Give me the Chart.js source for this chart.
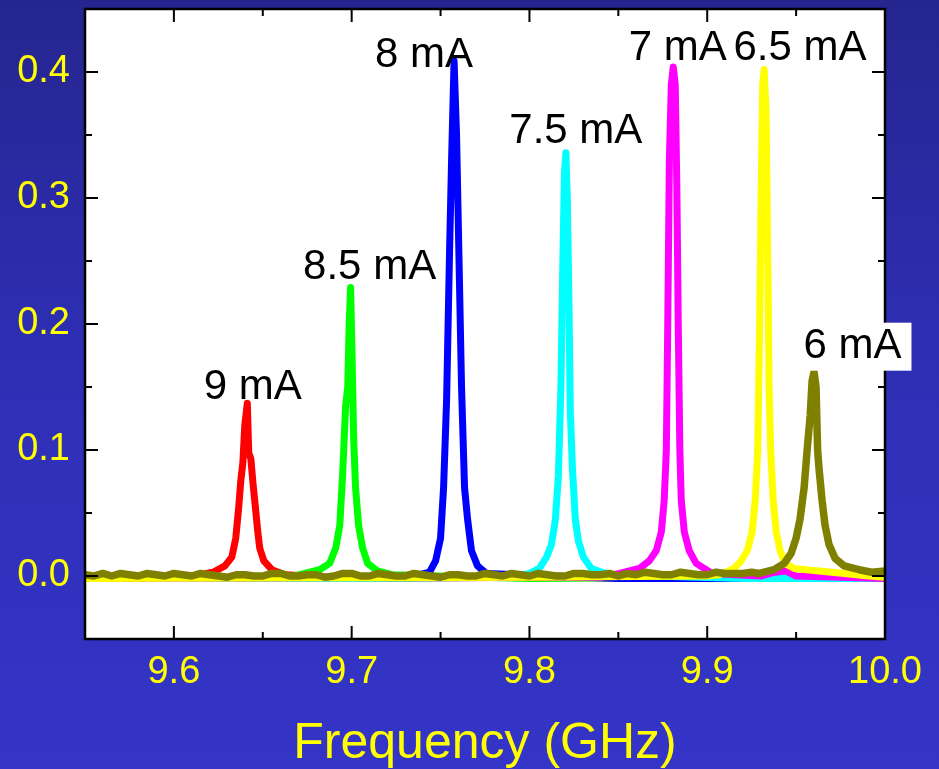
<!DOCTYPE html>
<html>
<head>
<meta charset="utf-8">
<script src="https://cdn.jsdelivr.net/npm/chart.js@4.4.1/dist/chart.umd.min.js"></script>
<style>
  html, body { margin: 0; padding: 0; }
  body {
    width: 939px; height: 769px; overflow: hidden;
    background: linear-gradient(to bottom, #25258f 0%, #2e2eb4 45%, #3434c8 100%);
  }
  canvas { display: block; }
</style>
</head>
<body>
<canvas id="chart" width="939" height="769"></canvas>
<script>
// tick labels
const xTicks = [9.6, 9.7, 9.8, 9.9, 10.0];
const yTicks = [0.0, 0.1, 0.2, 0.3, 0.4];
const xMinor = [9.55, 9.65, 9.75, 9.85, 9.95];
const yMinor = [0.05, 0.15, 0.25, 0.35];

// bias currents and line colours
const currents = ['9 mA', '8.5 mA', '8 mA', '7.5 mA', '7 mA', '6.5 mA', '6 mA'];
const colors = ['#ff0000', '#00ff00', '#0000ff', '#00ffff', '#ff00ff', '#ffff00', '#808000'];

// spectra: [frequency GHz, amplitude]
const s9 = [[9.55, -0.002], [9.58, -0.001], [9.60, -0.002], [9.615, 0.001], [9.622, 0.003], [9.6287, 0.008],
  [9.6326, 0.015], [9.6348, 0.03], [9.6365, 0.055], [9.6376, 0.075], [9.6388, 0.09], [9.6399, 0.12],
  [9.6413, 0.137], [9.6421, 0.098], [9.6433, 0.093], [9.6444, 0.075], [9.6458, 0.055], [9.6472, 0.035],
  [9.6483, 0.022], [9.6506, 0.012], [9.6551, 0.005], [9.6624, 0.001], [9.70, -0.002], [9.80, -0.001],
  [9.90, -0.002], [10.0, -0.002]];
const s85 = [[9.55, -0.002], [9.62, -0.001], [9.665, -0.001], [9.6736, 0.002], [9.682, 0.005], [9.6876, 0.01],
  [9.691, 0.022], [9.6933, 0.04], [9.6949, 0.08], [9.6966, 0.135], [9.6978, 0.15], [9.6986, 0.2],
  [9.6994, 0.229], [9.7003, 0.17], [9.7011, 0.11], [9.7022, 0.07], [9.7039, 0.04], [9.7062, 0.022],
  [9.709, 0.01], [9.7146, 0.004], [9.7225, 0.001], [9.80, -0.002], [9.90, -0.001], [10.0, -0.002]];
const s8 = [[9.55, -0.002], [9.65, -0.002], [9.73, -0.001], [9.7382, 0.001], [9.7438, 0.003], [9.7472, 0.012],
  [9.750, 0.03], [9.7517, 0.07], [9.7534, 0.14], [9.7551, 0.26], [9.7562, 0.33], [9.7576, 0.409],
  [9.759, 0.35], [9.7604, 0.25], [9.7618, 0.15], [9.7635, 0.07], [9.7652, 0.045], [9.7674, 0.02],
  [9.7708, 0.008], [9.7758, 0.002], [9.85, -0.002], [10.0, -0.002]];
const s75 = [[9.55, -0.002], [9.70, -0.002], [9.79, -0.001], [9.80, 0.002], [9.8056, 0.006], [9.8096, 0.015],
  [9.8124, 0.025], [9.8146, 0.045], [9.8163, 0.08], [9.8177, 0.15], [9.8188, 0.25], [9.8197, 0.32],
  [9.8205, 0.336], [9.8213, 0.3], [9.8222, 0.22], [9.823, 0.13], [9.8242, 0.085], [9.8258, 0.045],
  [9.8275, 0.028], [9.8303, 0.015], [9.8348, 0.006], [9.8449, 0.001], [9.92, -0.002], [10.0, -0.002]];
const s7 = [[9.55, -0.002], [9.75, -0.001], [9.84, -0.001], [9.8506, 0.002], [9.8618, 0.006], [9.8674, 0.012],
  [9.8713, 0.02], [9.8742, 0.035], [9.8758, 0.06], [9.877, 0.1], [9.8778, 0.2], [9.8787, 0.33],
  [9.8798, 0.39], [9.8809, 0.404], [9.882, 0.39], [9.8829, 0.31], [9.8837, 0.2], [9.8846, 0.1],
  [9.8854, 0.06], [9.8871, 0.035], [9.8899, 0.02], [9.8938, 0.01], [9.9028, 0.002], [9.93, 0.0],
  [9.938, 0.003], [9.944, 0.004], [9.95, 0.0], [10.0, -0.002]];
const s65 = [[9.55, -0.002], [9.80, -0.001], [9.90, 0.0], [9.9067, 0.001], [9.9152, 0.006], [9.9191, 0.012],
  [9.9225, 0.02], [9.9253, 0.035], [9.927, 0.06], [9.9284, 0.1], [9.9295, 0.2], [9.9303, 0.3],
  [9.9312, 0.39], [9.932, 0.402], [9.9331, 0.37], [9.934, 0.26], [9.9348, 0.15], [9.9357, 0.1],
  [9.9371, 0.06], [9.9388, 0.035], [9.941, 0.02], [9.9438, 0.01], [9.9489, 0.006], [9.9629, 0.004],
  [9.977, 0.002], [9.991, 0.0], [10.0, -0.001]];
const s6 = [[9.55, 0.001], [9.555, 0.0], [9.56, 0.002], [9.565, 0.0], [9.57, 0.002], [9.575, 0.001], [9.58, 0.0],
  [9.585, 0.002], [9.59, 0.001], [9.595, 0.0], [9.60, 0.002], [9.605, 0.001], [9.61, 0.0], [9.615, 0.002],
  [9.62, 0.001], [9.625, 0.0], [9.63, -0.001], [9.635, 0.001], [9.64, 0.001], [9.645, 0.0], [9.65, 0.0],
  [9.655, 0.002], [9.66, 0.002], [9.665, 0.0], [9.67, 0.0], [9.675, 0.001], [9.68, 0.001], [9.685, -0.001],
  [9.69, 0.0], [9.695, 0.002], [9.70, 0.002], [9.705, 0.0], [9.71, 0.0], [9.715, 0.002], [9.72, 0.001],
  [9.725, 0.0], [9.73, 0.0], [9.735, 0.002], [9.74, 0.001], [9.745, 0.0], [9.75, -0.001], [9.755, 0.001],
  [9.76, 0.001], [9.765, 0.0], [9.77, 0.0], [9.775, 0.002], [9.78, 0.001], [9.785, 0.0], [9.79, 0.002],
  [9.795, 0.001], [9.80, 0.0], [9.805, 0.002], [9.81, 0.001], [9.815, 0.0], [9.82, 0.0], [9.825, 0.002],
  [9.83, 0.002], [9.835, 0.001], [9.84, 0.001], [9.845, 0.002], [9.85, 0.0], [9.855, 0.002], [9.86, 0.001],
  [9.865, 0.003], [9.87, 0.002], [9.875, 0.001], [9.88, 0.001], [9.885, 0.003], [9.89, 0.002], [9.895, 0.001],
  [9.90, 0.001], [9.905, 0.003], [9.91, 0.002], [9.915, 0.002], [9.92, 0.002], [9.925, 0.003],
  [9.9292, 0.002], [9.9376, 0.005], [9.9433, 0.01],
  [9.9472, 0.018], [9.95, 0.03], [9.9522, 0.045], [9.9545, 0.07], [9.9562, 0.1], [9.9579, 0.127],
  [9.959, 0.155], [9.9601, 0.162], [9.9612, 0.15], [9.9621, 0.1], [9.9629, 0.085], [9.9646, 0.06],
  [9.9663, 0.04], [9.9685, 0.025], [9.9719, 0.014], [9.977, 0.008], [9.9854, 0.005], [9.9925, 0.003],
  [10.0, 0.004]];
const spectra = [s9, s85, s8, s75, s7, s65, s6];

// where each current label sits (GHz, amplitude)
const labelX = [9.6444, 9.7101, 9.7407, 9.8261, 9.8834, 9.9522, 9.9817];
const labelY = [0.150, 0.245, 0.413, 0.353, 0.419, 0.419, 0.182];

const frame = {
  id: 'frame',
  beforeDatasetsDraw(chart) {
    const { ctx, chartArea: a } = chart;
    ctx.save();
    ctx.fillStyle = '#ffffff';
    ctx.fillRect(a.left, a.top, a.right - a.left, a.bottom - a.top);
    ctx.restore();
  },
  afterDatasetsDraw(chart) {
    const { ctx, chartArea: a, scales: { x, y } } = chart;
    ctx.save();
    ctx.strokeStyle = '#000';
    ctx.lineWidth = 2;
    const seg = (x1, y1, x2, y2) => { ctx.beginPath(); ctx.moveTo(x1, y1); ctx.lineTo(x2, y2); ctx.stroke(); };
    xTicks.forEach(v => { const p = x.getPixelForValue(v); seg(p, a.bottom, p, a.bottom - 13); seg(p, a.top, p, a.top + 13); });
    xMinor.forEach(v => { const p = x.getPixelForValue(v); seg(p, a.bottom, p, a.bottom - 7); seg(p, a.top, p, a.top + 7); });
    yTicks.forEach(v => { const p = y.getPixelForValue(v); seg(a.left, p, a.left + 13, p); seg(a.right, p, a.right - 13, p); });
    yMinor.forEach(v => { const p = y.getPixelForValue(v); seg(a.left, p, a.left + 7, p); seg(a.right, p, a.right - 7, p); });
    ctx.lineWidth = 2.5;
    ctx.strokeRect(a.left, a.top, a.right - a.left, a.bottom - a.top);

    ctx.font = '42px "Liberation Sans", Arial, sans-serif';
    ctx.textAlign = 'center';
    ctx.textBaseline = 'middle';
    currents.forEach((t, i) => {
      const px = x.getPixelForValue(labelX[i]);
      const py = y.getPixelForValue(labelY[i]);
      if (i === currents.length - 1) {
        const w = ctx.measureText(t).width;
        ctx.fillStyle = '#ffffff';
        ctx.fillRect(px - w / 2 - 10, py - 24, w + 20, 48);
      }
      ctx.fillStyle = '#000000';
      ctx.fillText(t, px, py);
    });
    ctx.restore();
  }
};

const tickFont = { family: '"Liberation Sans", Arial, sans-serif', size: 38 };

new Chart(document.getElementById('chart').getContext('2d'), {
  type: 'line',
  data: {
    datasets: spectra.map((d, i) => ({
      label: currents[i],
      data: d,
      borderColor: colors[i],
      borderWidth: i === spectra.length - 1 ? 7.5 : 7,
      borderJoinStyle: 'round',
      borderCapStyle: 'round',
      pointRadius: 0,
      tension: 0,
      fill: false,
      order: spectra.length - i
    }))
  },
  options: {
    responsive: false,
    animation: false,
    layout: { padding: { top: 9, right: 54, left: 0, bottom: 0 } },
    plugins: { legend: { display: false }, tooltip: { enabled: false } },
    scales: {
      x: {
        type: 'linear',
        min: 9.55,
        max: 10.0,
        grid: { display: false, drawTicks: false },
        border: { display: false },
        afterBuildTicks: s => { s.ticks = xTicks.map(v => ({ value: v })); },
        afterFit: s => { s.height = 130; s.paddingLeft = 0; s.paddingRight = 0; },
        ticks: { color: '#ffff00', font: tickFont, padding: 11, maxRotation: 0, callback: v => v.toFixed(1) },
        title: {
          display: true,
          text: 'Frequency (GHz)',
          color: '#ffff00',
          font: { family: '"Liberation Sans", Arial, sans-serif', size: 50, lineHeight: 1 },
          padding: 0
        }
      },
      y: {
        min: -0.05,
        max: 0.45,
        grid: { display: false, drawTicks: false },
        border: { display: false },
        afterBuildTicks: s => { s.ticks = yTicks.map(v => ({ value: v })); },
        afterFit: s => { s.width = 85; s.paddingTop = 0; s.paddingBottom = 0; },
        ticks: { color: '#ffff00', font: tickFont, padding: 15, callback: v => v.toFixed(1) }
      }
    }
  },
  plugins: [frame]
});
</script>
</body>
</html>
